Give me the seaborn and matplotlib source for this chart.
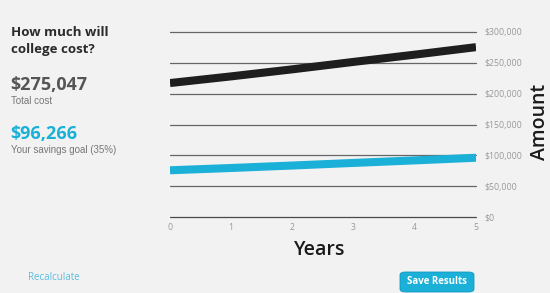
import matplotlib
matplotlib.use("Agg")
import matplotlib.pyplot as plt
import seaborn as sns
import pandas as pd
from matplotlib.patches import FancyBboxPatch
from matplotlib.ticker import FuncFormatter

years = [0, 1, 2, 3, 4, 5]
total_cost = [217000, 227800, 239200, 251200, 262900, 275047]
savings_goal = [76000, 79700, 83700, 87900, 92000, 96266]
y_ticks = [0, 50000, 100000, 150000, 200000, 250000, 300000]

df = pd.DataFrame({"Years": years + years,
                   "Amount": total_cost + savings_goal,
                   "series": ["Total cost"] * 6 + ["Savings goal"] * 6})

sns.set_theme(style="white")
plt.rcParams["font.family"] = ["Open Sans", "DejaVu Sans"]
BG = "#f2f2f2"
fig = plt.figure(figsize=(5.5, 2.93), dpi=100, facecolor=BG)
ax = fig.add_axes([170/550, 1-217.3/293, (476-170)/550, (217.3-31.7)/293])
ax.set_facecolor(BG)

sns.lineplot(data=df, x="Years", y="Amount", hue="series",
             palette={"Total cost": "#1e1e1e", "Savings goal": "#1ab0d8"},
             linewidth=5.8, legend=False, ax=ax, solid_capstyle="butt", zorder=3)

ax.set_xlim(0, 5)
ax.set_ylim(0, 300000)
ax.set_yticks(y_ticks)
ax.set_xticks(years)
ax.yaxis.tick_right()
ax.yaxis.set_major_formatter(FuncFormatter(lambda v, p: f"${int(v):,}"))
ax.tick_params(axis="both", length=0, labelsize=6.3, colors="#999999", pad=4)
ax.tick_params(axis="y", pad=6)
for v in y_ticks:
    ax.axhline(v, color="#666666" if v else "#4a4a4a", lw=0.9, zorder=1, clip_on=False)
for s in ax.spines.values():
    s.set_visible(False)
ax.set_xlabel("")
ax.set_ylabel("")

fig.text(320/550, 1-250/293, "Years", ha="center", va="center",
         fontsize=14, color="#1a1a1a", fontweight="semibold")
fig.text(540/550, 1-122/293, "Amount", ha="center", va="center", rotation=90,
         fontsize=14, color="#1a1a1a", fontweight="semibold")

fig.text(11/550, 1-41/293, "How much will\ncollege cost?", ha="left", va="center",
         fontsize=9.5, color="#2a2a2a", fontweight="bold", linespacing=1.45)
fig.text(10/550, 1-85/293, "$275,047", ha="left", va="center",
         fontsize=13, color="#555555", fontweight="bold")
fig.text(11/550, 1-101/293, "Total cost", ha="left", va="center",
         fontsize=7, color="#777777", family=["Liberation Sans", "DejaVu Sans"])
fig.text(10/550, 1-134/293, "$96,266", ha="left", va="center",
         fontsize=13, color="#1ab0d8", fontweight="bold")
fig.text(11/550, 1-150/293, "Your savings goal (35%)", ha="left", va="center",
         fontsize=7, color="#777777", family=["Liberation Sans", "DejaVu Sans"])

fig.text(28/550, 1-278/293, "Recalculate", ha="left", va="center",
         fontsize=7, color="#5bbde0")
btn = FancyBboxPatch((400/550, 1-292/293), 74/550, 20/293,
                     boxstyle="round,pad=0,rounding_size=0.01",
                     transform=fig.transFigure, facecolor="#1ab0d8",
                     edgecolor="#1798c0", lw=0.6)
fig.patches.append(btn)
fig.text(437/550, 1-281/293, "Save Results", ha="center", va="center",
         fontsize=7, color="white", fontweight="bold")

fig.savefig("out.png", dpi=100, facecolor=BG)
